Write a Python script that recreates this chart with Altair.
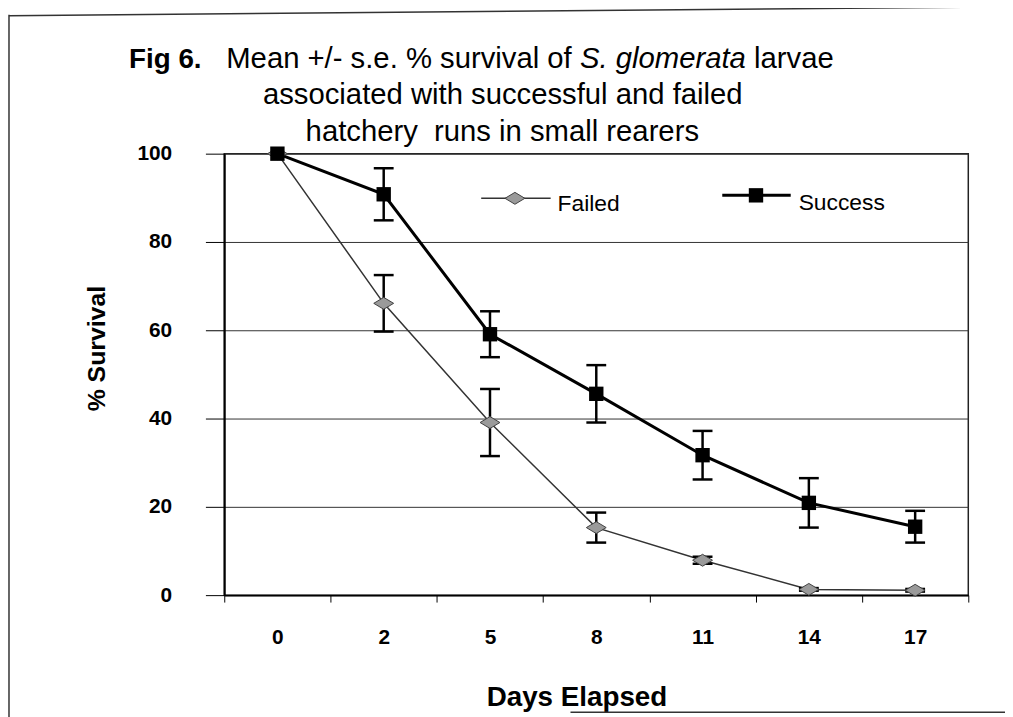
import altair as alt
import pandas as pd

# ---------------- data ----------------
days = ["0", "2", "5", "8", "11", "14", "17"]
success_mean = [100, 90.8, 59.1, 45.6, 31.7, 20.9, 15.5]
success_se = [0, 5.9, 5.2, 6.5, 5.5, 5.6, 3.6]
failed_mean = [100, 66.1, 39.1, 15.3, 7.9, 1.3, 1.1]
failed_se = [0, 6.4, 7.6, 3.4, 0.8, 0.3, 0.3]
y_ticks = [0, 20, 40, 60, 80, 100]
series_names = ["Failed", "Success"]
title_fig = "Fig 6."
title_line1a = "Mean +/- s.e. % survival of"
title_line1b = "S. glomerata"
title_line1c = "larvae"
title_line2 = "associated with successful and failed"
title_line3 = "hatchery\u00a0 runs in small rearers"
x_title = "Days Elapsed"
y_title = "% Survival"

rows = []
for name, means, ses in [("Failed", failed_mean, failed_se),
                         ("Success", success_mean, success_se)]:
    for d, m, s in zip(days, means, ses):
        rows.append({"day": d, "series": name, "mean": m, "se": s,
                     "lo": m - s, "hi": m + s})
df = pd.DataFrame(rows)
df_fail = df[df.series == "Failed"]
df_succ = df[df.series == "Success"]
df_err = df[df.se > 0]

FONT = "Liberation Sans"
W, H = 750, 445
DIAMOND = "M-1,0L0,-0.6L1,0L0,0.6Z"

x_scale = alt.Scale(type="band", domain=days, paddingInner=0, paddingOuter=0)
y_scale = alt.Scale(domain=[0, 100], nice=False)

x_axis = alt.Axis(title=x_title, labelAngle=0, tickBand="extent", tickSize=7,
                  tickColor="black", tickWidth=1, domainColor="black",
                  domainWidth=2, labelFont=FONT, labelFontSize=21,
                  labelFontWeight="bold", labelColor="black",
                  labelBaseline="top", labelPadding=25, grid=False,
                  titleFont=FONT, titleFontSize=28, titleFontWeight="bold",
                  titleColor="black", titleX=355, titleY=111,
                  titleAlign="center", titleBaseline="alphabetic")
y_axis = alt.Axis(title=y_title, values=y_ticks, tickSize=19, tickColor="black",
                  tickWidth=1, domainColor="black", domainWidth=2,
                  labelFont=FONT, labelFontSize=21, labelFontWeight="bold",
                  labelColor="black", labelPadding=34, grid=True,
                  gridColor="#333333", gridWidth=1,
                  titleFont=FONT, titleFontSize=25, titleFontWeight="bold",
                  titleColor="black", titleAngle=270, titleX=-129, titleY=196,
                  titleAlign="center", titleBaseline="middle")

X = alt.X("day:O", sort=days, scale=x_scale, axis=x_axis)


def Y(field):
    return alt.Y(field, scale=y_scale, axis=y_axis)


fail_line = alt.Chart(df_fail).mark_line(color="#333333", strokeWidth=1.5).encode(
    x=X, y=Y("mean:Q"))
succ_line = alt.Chart(df_succ).mark_line(color="black", strokeWidth=3).encode(
    x=X, y=Y("mean:Q"))
err_rule = alt.Chart(df_err).mark_rule(color="black", strokeWidth=2.5).encode(
    x=X, y=Y("lo:Q"), y2="hi:Q")
err_lo = alt.Chart(df_err).mark_tick(color="black", size=20, thickness=2.5, opacity=1).encode(
    x=X, y=Y("lo:Q"))
err_hi = alt.Chart(df_err).mark_tick(color="black", size=20, thickness=2.5, opacity=1).encode(
    x=X, y=Y("hi:Q"))
fail_pts = alt.Chart(df_fail).mark_point(
    shape=DIAMOND, size=400, filled=True, fill="#9a9a9a", stroke="#404040",
    strokeWidth=1, opacity=1).encode(x=X, y=Y("mean:Q"))
succ_pts = alt.Chart(df_succ).mark_point(
    shape="square", size=210, filled=True, color="black", opacity=1).encode(
    x=X, y=Y("mean:Q"))

one = pd.DataFrame({"k": [0]})


def txt(s, x, y, size, weight="normal", style="normal", align="left"):
    return alt.Chart(pd.DataFrame({"t": [s]})).mark_text(
        font=FONT, fontSize=size, fontWeight=weight, fontStyle=style,
        align=align, baseline="alphabetic", color="black").encode(
        x=alt.value(x), y=alt.value(y), text="t:N")


# legend (inside plot)
leg_fail_line = alt.Chart(one).mark_rule(color="#333333", strokeWidth=1.5).encode(
    x=alt.value(259), x2=alt.value(329), y=alt.value(45))
leg_fail_pt = alt.Chart(one).mark_point(
    shape=DIAMOND, size=400, filled=True, fill="#9a9a9a", stroke="#404040",
    strokeWidth=1, opacity=1).encode(x=alt.value(293), y=alt.value(45))
leg_fail_txt = txt(series_names[0], 336, 58, 23)
leg_succ_line = alt.Chart(one).mark_rule(color="black", strokeWidth=3).encode(
    x=alt.value(502), x2=alt.value(571), y=alt.value(42))
leg_succ_pt = alt.Chart(one).mark_point(
    shape="square", size=210, filled=True, color="black", opacity=1).encode(
    x=alt.value(536), y=alt.value(42))
leg_succ_txt = txt(series_names[1], 579, 57, 23)

# title
t_fig = txt(title_fig, -96, -86, 28, weight="bold")
t_1a = txt(title_line1a, 2, -86, 29.5)
t_1b = txt(title_line1b, 358.6, -86, 29.5, style="italic")
t_1c = txt(title_line1c, 534, -86, 29.5)
t_2 = txt(title_line2, 39, -50, 29.5)
t_3 = txt(title_line3, 82, -13, 29.5)

# scanned figure frame
frame_left = alt.Chart(one).mark_rule(color="#333333", strokeWidth=1.5).encode(
    x=alt.value(-217), y=alt.value(-140), y2=alt.value(570))
frame_top = alt.Chart(one).mark_rule(color="#333333", strokeWidth=1.5).encode(
    x=alt.value(-217), x2=alt.value(790), y=alt.value(-139), y2=alt.value(-148))
frame_bottom = alt.Chart(one).mark_rule(color="#333333", strokeWidth=1.5).encode(
    x=alt.value(349), x2=alt.value(790), y=alt.value(563))

chart = alt.layer(
    fail_line, succ_line, err_rule, err_lo, err_hi, fail_pts, succ_pts,
    leg_fail_line, leg_fail_pt, leg_fail_txt,
    leg_succ_line, leg_succ_pt, leg_succ_txt,
    t_fig, t_1a, t_1b, t_1c, t_2, t_3,
    frame_left, frame_top, frame_bottom,
).properties(
    width=W, height=H,
    autosize=alt.AutoSizeParams(type="none"),
    padding={"left": 218, "top": 144, "right": 37, "bottom": 120},
    background="white",
).configure_view(stroke="#222222", strokeWidth=1.5)

chart.save("out.html", embed_options={"renderer": "svg", "actions": False})
